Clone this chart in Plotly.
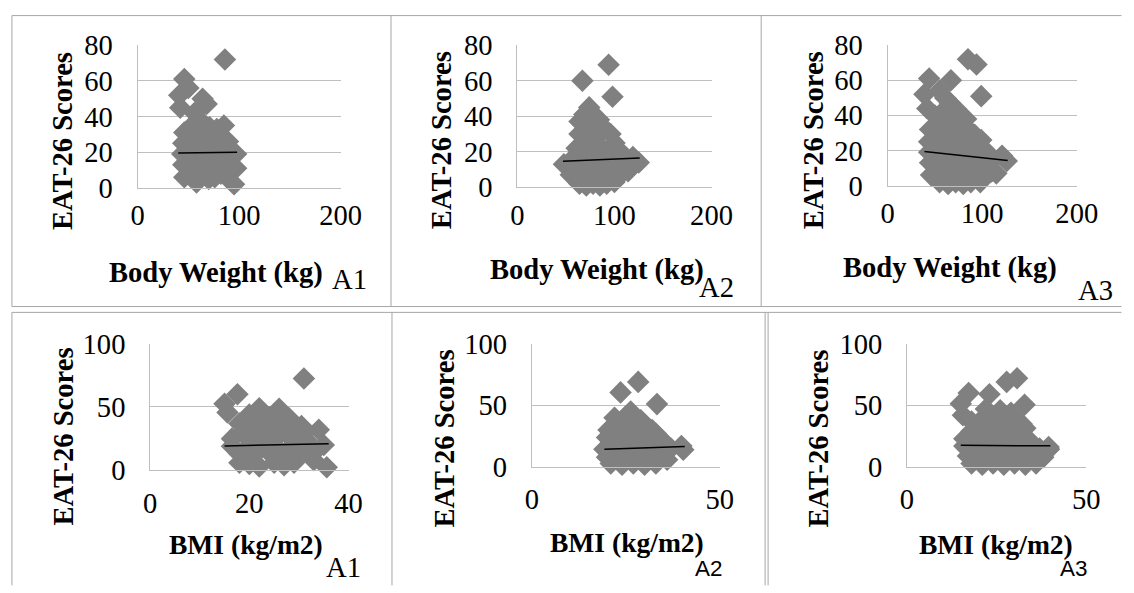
import plotly.graph_objects as go

# Figure size, and the measured mapping from figure pixels to the photographed
# picture (picture = A + S * figure). All positions below are given in picture
# pixels and converted through this mapping.
W, H = 1134, 593
SX, SY = 0.988, 0.972
AX, AY = 5.0, 8.0
FS = 1 / 0.98  # font / marker size compensation

# ---------------- data ----------------
# Body weight (kg) vs EAT-26, group A1
wt_a1_x = [86, 46, 50, 41, 42, 64, 68, 56, 60,
           46, 52, 58, 65, 71, 78, 85,
           45, 51, 57, 63, 69, 75, 82, 89,
           44, 50, 56, 62, 68, 74, 80, 86, 92, 97,
           45, 51, 57, 63, 69, 75, 81, 87, 93, 97,
           46, 52, 58, 64, 70, 76, 82, 88, 95]
wt_a1_y = [72, 61, 56, 52, 45, 50, 47, 42, 38,
           31, 34, 35, 36, 34, 33, 35,
           25, 28, 26, 29, 27, 28, 27, 26,
           19, 21, 19, 22, 20, 21, 19, 21, 20, 19,
           13, 14, 12, 15, 13, 14, 12, 14, 12, 11,
           6, 8, 3, 7, 5, 6, 8, 6, 2]
wt_a1_trend_x = [40, 98]
wt_a1_trend_y = [19.5, 20.0]

# Body weight vs EAT-26, group A2
wt_a2_x = [94, 67, 98, 74, 69, 78,
           64, 71, 79, 84,
           64, 70, 77, 84, 90, 96, 100,
           61, 67, 73, 80, 87, 94, 101, 108, 119,
           48, 55, 62, 69, 76, 83, 90, 97, 104, 111, 125,
           55, 62, 69, 76, 83, 90, 97, 104, 114,
           64, 71, 78, 85, 92, 100]
wt_a2_y = [69, 60, 51, 45, 41, 41,
           37, 36, 37, 38,
           30, 29, 31, 30, 33, 30, 25,
           22, 20, 23, 21, 22, 20, 19, 19, 17,
           13, 15, 12, 14, 12, 15, 13, 12, 13, 12, 14,
           7, 6, 8, 5, 7, 5, 8, 6, 9,
           2, 1, 2, 1, 2, 3]
wt_a2_trend_x = [47, 126]
wt_a2_trend_y = [14.7, 16.5]

# Body weight vs EAT-26, group A3
wt_a3_x = [85, 94, 99, 67, 44, 39, 42, 55, 61, 66,
           50, 58, 64, 72, 78, 83,
           45, 52, 59, 66, 73, 80, 87, 92,
           44, 50, 57, 64, 71, 78, 85, 92, 99,
           44, 51, 58, 65, 72, 79, 86, 93, 100, 107, 121,
           45, 52, 59, 66, 73, 80, 87, 94, 101, 108, 126,
           46, 53, 60, 67, 74, 81, 88, 95, 102, 110, 115,
           55, 64, 72, 80, 88, 98]
wt_a3_y = [72, 69, 51, 60, 61, 52, 44, 54, 50, 47,
           40, 42, 41, 44, 40, 38,
           32, 34, 35, 36, 34, 33, 31, 29,
           25, 27, 26, 28, 27, 25, 26, 24, 26,
           19, 21, 19, 22, 20, 21, 19, 20, 19, 18, 17,
           13, 14, 12, 15, 13, 14, 12, 14, 12, 13, 14,
           6, 8, 5, 7, 5, 7, 5, 7, 6, 8, 7,
           2, 1, 2, 1, 2, 2]
wt_a3_trend_x = [39, 127]
wt_a3_trend_y = [19.4, 14.3]

# BMI (kg/m2) vs EAT-26, group A1
bmi_a1_x = [31, 17.6, 15, 15.6, 22, 26, 20, 24, 28,
            18, 21, 24, 27, 30.5, 34, 19, 22, 25, 28, 31,
            16.5, 19.5, 22.5, 25.5, 28.5, 31.5,
            16.5, 19.5, 22.5, 25.5, 28.5, 31.8, 35,
            18, 21, 24, 27, 30, 33,
            18, 20, 22, 25, 27, 29, 33, 35.6]
bmi_a1_y = [72.5, 60, 52.5, 45.6, 49, 48.5, 44, 42, 41,
            37, 38, 36, 37, 35, 32, 31, 30, 32, 30, 29,
            25, 26, 24, 26, 25, 24,
            19, 18, 20, 18, 19, 20.5, 20,
            13, 12, 14, 12, 13, 14,
            6, 5, 3, 6, 4, 6, 8, 2.5]
bmi_a1_trend_x = [15, 36]
bmi_a1_trend_y = [19.2, 21.0]

# BMI vs EAT-26, group A2
bmi_a2_x = [28.3, 23.6, 33.3, 26.3, 22, 25, 29,
            20.4, 23, 26, 29, 32, 33,
            20, 23, 26, 29, 32, 35,
            19.3, 22, 25, 28, 31, 34, 37, 39.8, 40.3,
            20, 23, 26, 29, 32, 34, 36,
            21, 24, 27, 30, 33]
bmi_a2_y = [69, 60.5, 51, 45, 40, 41, 38,
            30, 33, 31, 33, 30, 27,
            24, 22, 25, 23, 24, 21,
            14.5, 16, 14, 16, 14, 16, 15, 17, 14,
            8, 7, 9, 6, 8, 7, 6,
            3, 2, 3, 2, 3]
bmi_a2_trend_x = [19.3, 40.7]
bmi_a2_trend_y = [14.5, 16.6]

# BMI vs EAT-26, group A3
bmi_a3_x = [30.7, 27.8, 32.8, 23, 17.2, 15, 15.6, 22, 26, 29,
            18, 21, 24, 27, 30, 32,
            18, 21, 24, 27, 30, 33,
            16, 19, 22, 25, 28, 31, 34,
            16, 19, 22, 25, 28, 31, 34, 37, 39.5, 39.6,
            17, 20, 23, 26, 29, 32, 35, 38,
            18, 21, 24, 27, 30, 33, 36]
bmi_a3_y = [72, 69, 50.5, 59, 60, 51.3, 42, 47, 46, 44,
            37, 39, 38, 40, 37, 35,
            29, 31, 29, 32, 29, 31.5,
            23, 24, 22, 25, 23, 24, 22,
            17, 15, 17, 14, 16, 14, 16, 15, 16.3, 14.5,
            9, 8, 10, 7, 9, 7, 9, 8,
            3, 2, 3, 2, 3, 2, 3]
bmi_a3_trend_x = [15, 40]
bmi_a3_trend_y = [17.7, 17.2]

x_titles = ["Body Weight (kg)"] * 3 + ["BMI (kg/m2)"] * 3
y_title = "EAT-26 Scores"
group_tags = ["A1", "A2", "A3", "A1", "A2", "A3"]

# ---------------- layout helpers ----------------
SERIF = "Liberation Serif"
SANS = "Liberation Sans"
GRID = "#BFBFBF"
BORDER = "#A6A6A6"
MARK = "#808080"


def px(xp):
    return ((xp - AX) / SX) / W


def py(yp):
    return 1 - ((yp - AY) / SY) / H


# positions are in picture pixels
panels = [
    dict(x=wt_a1_x, y=wt_a1_y, tx=wt_a1_trend_x, ty=wt_a1_trend_y,
         xr=[0, 200], xd=100, yr=[0, 80], yd=20,
         box=(137.3, 343, 39, 185.3), yt=(62, 137), xt=(217, 273),
         tag=(352, 279), tagfont=SERIF, tagsize=28, xstand=2),
    dict(x=wt_a2_x, y=wt_a2_y, tx=wt_a2_trend_x, ty=wt_a2_trend_y,
         xr=[0, 200], xd=100, yr=[0, 80], yd=20,
         box=(522, 718.7, 39, 184.7), yt=(445, 136), xt=(603, 270),
         tag=(724, 287), tagfont=SERIF, tagsize=28, xstand=2),
    dict(x=wt_a3_x, y=wt_a3_y, tx=wt_a3_trend_x, ty=wt_a3_trend_y,
         xr=[0, 200], xd=100, yr=[0, 80], yd=20,
         box=(897, 1088.7, 39, 183), yt=(822, 137), xt=(960, 267),
         tag=(1108, 291), tagfont=SERIF, tagsize=28, xstand=2),
    dict(x=bmi_a1_x, y=bmi_a1_y, tx=bmi_a1_trend_x, ty=bmi_a1_trend_y,
         xr=[0, 40], xd=20, yr=[0, 100], yd=50,
         box=(150, 351, 345, 475), yt=(62, 440), xt=(247, 551),
         tag=(346, 575), tagfont=SERIF, tagsize=28, xstand=7),
    dict(x=bmi_a2_x, y=bmi_a2_y, tx=bmi_a2_trend_x, ty=bmi_a2_trend_y,
         xr=[0, 50], xd=50, yr=[0, 100], yd=50,
         box=(536.7, 727, 345, 471.7), yt=(448, 442), xt=(633, 549),
         tag=(716, 576), tagfont=SANS, tagsize=22, xstand=7),
    dict(x=bmi_a3_x, y=bmi_a3_y, tx=bmi_a3_trend_x, ty=bmi_a3_trend_y,
         xr=[0, 50], xd=50, yr=[0, 100], yd=50,
         box=(916.7, 1098.3, 345, 471.7), yt=(827, 442), xt=(1007, 551),
         tag=(1085, 576), tagfont=SANS, tagsize=22, xstand=7),
]

fig = go.Figure()
annotations = []
layout_axes = {}

for i, p in enumerate(panels):
    n = "" if i == 0 else str(i + 1)
    xa, ya = "x" + n, "y" + n
    fig.add_trace(go.Scatter(
        x=p["x"], y=p["y"], mode="markers", xaxis=xa, yaxis=ya,
        marker=dict(symbol="diamond", size=17 * FS, color=MARK, line=dict(width=0)),
        cliponaxis=False, showlegend=False, hoverinfo="skip"))
    fig.add_trace(go.Scatter(
        x=p["tx"], y=p["ty"], mode="lines", xaxis=xa, yaxis=ya,
        line=dict(color="black", width=1.5), cliponaxis=False,
        showlegend=False, hoverinfo="skip"))
    x0, x1, y0, y1 = p["box"]
    layout_axes["xaxis" + n] = dict(
        domain=[px(x0), px(x1)], range=p["xr"], dtick=p["xd"], tick0=0,
        anchor=ya, showgrid=False, zeroline=False, showline=True,
        linecolor=GRID, linewidth=1, ticks="", ticklabelstandoff=p["xstand"],
        tickfont=dict(family=SERIF, size=28 * FS, color="black"), fixedrange=True)
    layout_axes["yaxis" + n] = dict(
        domain=[py(y1), py(y0)], range=p["yr"], dtick=p["yd"], tick0=0,
        anchor=xa, showgrid=True, gridcolor=GRID, gridwidth=1, zeroline=False,
        showline=True, linecolor=GRID, linewidth=1, ticks="",
        ticklabelstandoff=18,
        tickfont=dict(family=SERIF, size=28 * FS, color="black"), fixedrange=True)
    annotations.append(dict(
        text="<b>" + y_title + "</b>", x=px(p["yt"][0]), y=py(p["yt"][1]),
        xref="paper", yref="paper", textangle=-90, showarrow=False,
        xanchor="center", yanchor="middle",
        font=dict(family=SERIF, size=28 * FS, color="black")))
    annotations.append(dict(
        text="<b>" + x_titles[i] + "</b>", x=px(p["xt"][0]), y=py(p["xt"][1]),
        xref="paper", yref="paper", showarrow=False,
        xanchor="center", yanchor="middle",
        font=dict(family=SERIF, size=(28 if i < 3 else 27) * FS, color="black")))
    annotations.append(dict(
        text=group_tags[i], x=px(p["tag"][0]), y=py(p["tag"][1]),
        xref="paper", yref="paper", showarrow=False,
        xanchor="center", yanchor="middle",
        font=dict(family=p["tagfont"], size=p["tagsize"] * FS, color="black")))

# table-cell borders around the panels (picture pixel positions)
border_segments = [
    (10, 8.6, 1134, 8.6), (10, 8.6, 10, 307), (394, 8.6, 394, 307),
    (769, 8.6, 769, 307), (10, 307, 1134, 307),
    (10, 313, 1134, 313), (10, 313, 10, 593), (395, 313, 395, 593),
    (773, 313, 773, 593), (776, 313, 776, 593),
]
shapes = [dict(type="line", xref="paper", yref="paper",
               x0=px(a), y0=py(b), x1=px(c), y1=py(d),
               line=dict(color=BORDER, width=1), layer="below")
          for a, b, c, d in border_segments]

fig.update_layout(
    width=W, height=H, margin=dict(l=0, r=0, t=0, b=0),
    paper_bgcolor="white", plot_bgcolor="white",
    annotations=annotations, shapes=shapes, **layout_axes)

fig.write_html("out.html", config={"displayModeBar": False})
